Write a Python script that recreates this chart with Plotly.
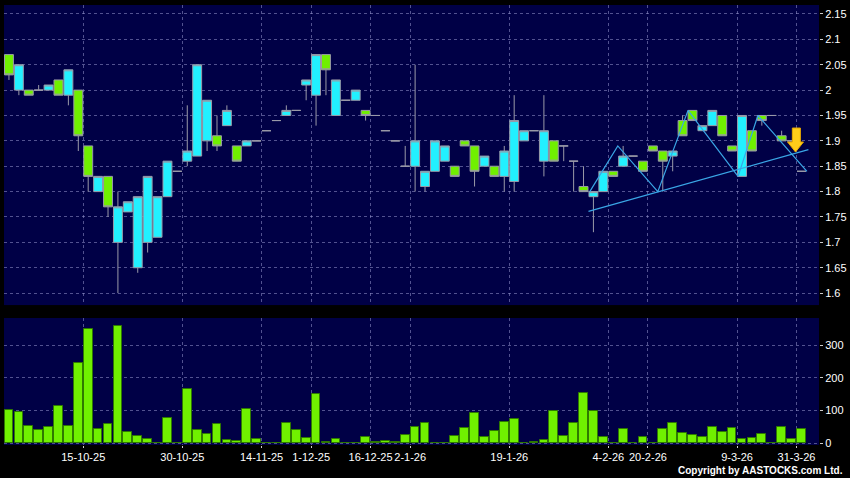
import plotly.graph_objects as go

# ---------------- data ----------------
opens = [2.07, 2.00, 2.00, 2.00, 2.00, 2.02, 1.99, 2.00, 1.89, 1.80,
         1.83, 1.70, 1.76, 1.65, 1.70, 1.71, 1.79, 1.84, 1.86, 1.87,
         1.90, 1.91, 1.93, 1.89, 1.89, 1.90, 1.92, 1.94, 1.95, 1.96,
         2.01, 1.99, 2.07, 1.95, 1.98, 1.98, 1.96, 1.95, 1.92, 1.90,
         1.85, 1.85, 1.81, 1.84, 1.86, 1.85, 1.90, 1.89, 1.85, 1.85,
         1.83, 1.82, 1.90, 1.92, 1.86, 1.90, 1.89, 1.86, 1.81, 1.79,
         1.80, 1.84, 1.85, 1.87, 1.86, 1.89, 1.88, 1.87, 1.94, 1.96,
         1.92, 1.93, 1.95, 1.89, 1.83, 1.92, 1.95, 1.95, 1.91, 1.90,
         1.84]
highs = [2.07, 2.05, 2.00, 2.01, 2.01, 2.02, 2.04, 2.00, 1.89, 1.83,
         1.83, 1.80, 1.78, 1.79, 1.83, 1.79, 1.86, 1.84, 1.97, 2.05,
         1.98, 1.95, 1.97, 1.89, 1.90, 1.90, 1.92, 1.94, 1.97, 1.96,
         2.02, 2.07, 2.07, 2.02, 1.98, 2.00, 1.96, 1.95, 1.92, 1.90,
         1.89, 2.05, 1.84, 1.90, 1.89, 1.85, 1.90, 1.89, 1.87, 1.85,
         1.89, 1.99, 1.92, 1.92, 1.99, 1.90, 1.89, 1.86, 1.85, 1.80,
         1.84, 1.84, 1.89, 1.87, 1.86, 1.89, 1.88, 1.88, 1.95, 1.96,
         1.93, 1.96, 1.95, 1.89, 1.95, 1.92, 1.95, 1.95, 1.92, 1.90,
         1.84]
lows = [2.02, 1.99, 1.99, 2.00, 2.00, 1.99, 1.97, 1.88, 1.80, 1.80,
        1.75, 1.60, 1.76, 1.64, 1.68, 1.71, 1.79, 1.84, 1.85, 1.87,
        1.88, 1.88, 1.93, 1.86, 1.89, 1.90, 1.92, 1.94, 1.95, 1.96,
        1.98, 1.93, 1.99, 1.95, 1.98, 1.98, 1.94, 1.95, 1.92, 1.90,
        1.85, 1.80, 1.80, 1.84, 1.86, 1.83, 1.89, 1.81, 1.85, 1.83,
        1.80, 1.80, 1.90, 1.92, 1.83, 1.86, 1.86, 1.80, 1.80, 1.72,
        1.80, 1.83, 1.85, 1.87, 1.84, 1.88, 1.80, 1.84, 1.91, 1.94,
        1.92, 1.93, 1.91, 1.88, 1.83, 1.88, 1.93, 1.95, 1.90, 1.90,
        1.84]
closes = [2.03, 2.05, 1.99, 2.00, 2.01, 1.99, 2.04, 1.91, 1.83, 1.83,
          1.77, 1.77, 1.78, 1.79, 1.83, 1.79, 1.86, 1.84, 1.88, 2.05,
          1.98, 1.89, 1.96, 1.86, 1.90, 1.90, 1.92, 1.94, 1.96, 1.96,
          2.02, 2.07, 2.04, 2.02, 1.98, 2.00, 1.95, 1.95, 1.92, 1.90,
          1.85, 1.90, 1.84, 1.90, 1.89, 1.83, 1.89, 1.84, 1.87, 1.83,
          1.88, 1.94, 1.92, 1.92, 1.92, 1.86, 1.89, 1.86, 1.80, 1.80,
          1.84, 1.83, 1.87, 1.87, 1.84, 1.88, 1.86, 1.88, 1.91, 1.94,
          1.93, 1.96, 1.91, 1.88, 1.95, 1.88, 1.94, 1.95, 1.90, 1.90,
          1.84]
volumes = [101, 96, 54, 40, 51, 113, 54, 244, 350, 45,
           59, 358, 34, 21, 12, 1, 76, 0, 167, 40,
           28, 59, 9, 7, 106, 12, 2, 2, 63, 42,
           17, 152, 3, 13, 0, 1, 18, 4, 8, 3,
           25, 49, 61, 0, 1, 23, 46, 94, 18, 39,
           64, 73, 0, 3, 10, 99, 22, 62, 155, 99,
           20, 1, 43, 0, 18, 1, 43, 61, 32, 25,
           20, 50, 34, 47, 12, 15, 29, 0, 50, 12,
           43]
idx = list(range(len(closes)))

tick_pos = [7.5, 17.5, 25.5, 30.5, 36.5, 40.5, 50.5, 60.5, 64.5, 73.5, 79.5]
tick_labels = ["15-10-25", "30-10-25", "14-11-25", "1-12-25", "16-12-25", "2-1-26",
               "19-1-26", "4-2-26", "20-2-26", "9-3-26", "31-3-26"]
price_ticks = [1.6, 1.65, 1.7, 1.75, 1.8, 1.85, 1.9, 1.95, 2.0, 2.05, 2.1, 2.15]
price_tick_text = ["1.6", "1.65", "1.7", "1.75", "1.8", "1.85", "1.9", "1.95", "2", "2.05", "2.1", "2.15"]
vol_ticks = [0, 100, 200, 300]

# drawn annotations (trend lines / arrow)
zigzag_x = [58.63, 61.46, 65.5, 68.55, 73.6, 75.6, 80.55]
zigzag_y = [1.80, 1.89, 1.80, 1.96, 1.83, 1.95, 1.84]
support_x = [58.5, 80.7]
support_y = [1.761, 1.8826]
arrow_path = ("M 79.08,1.9253 L 79.89,1.9253 L 79.89,1.8977 L 80.2,1.8977 "
              "L 79.4,1.878 L 78.6,1.8977 L 79.08,1.8977 Z")

# ---------------- styling ----------------
NAVY = "#000046"
CYAN = "#22f0ff"
LIME = "#70f000"
GRID = "rgba(150,150,205,0.55)"
FONT = "Arial, Liberation Sans, sans-serif"

fig = go.Figure()

fig.add_trace(go.Bar(
    x=idx, y=volumes, xaxis="x2", yaxis="y2", width=0.88,
    marker=dict(color=LIME, line=dict(color="#2f7a00", width=1)),
    showlegend=False, hoverinfo="skip"))

fig.add_trace(go.Candlestick(
    x=idx, open=opens, high=highs, low=lows, close=closes,
    xaxis="x", yaxis="y",
    increasing=dict(fillcolor=CYAN, line=dict(color="#9a9aa8", width=1)),
    decreasing=dict(fillcolor=LIME, line=dict(color="#9a9aa8", width=1)),
    whiskerwidth=0, showlegend=False, hoverinfo="skip"))

fig.add_trace(go.Scatter(x=zigzag_x, y=zigzag_y, mode="lines", xaxis="x", yaxis="y",
                         line=dict(color="#3aa6e6", width=1.2), showlegend=False, hoverinfo="skip"))
fig.add_trace(go.Scatter(x=support_x, y=support_y, mode="lines", xaxis="x", yaxis="y",
                         line=dict(color="#3aa6e6", width=1.2), showlegend=False, hoverinfo="skip"))

fig.add_shape(type="path", path=arrow_path, xref="x", yref="y",
              fillcolor="#ffcc1a", line=dict(color="#e6a800", width=1))

axis_common = dict(showline=False, zeroline=False, showgrid=True, gridcolor=GRID,
                   griddash="3px,3px", gridwidth=1, automargin=False,
                   tickfont=dict(family=FONT, size=11, color="#ffffff"))

fig.update_layout(
    width=850, height=478,
    margin=dict(l=4, r=31, t=5, b=33, autoexpand=False),
    paper_bgcolor="#000000", plot_bgcolor=NAVY,
    boxgap=0.1, boxgroupgap=0,
    bargap=0,
    xaxis=dict(domain=[0, 1], anchor="y", range=[-0.5, 81.77], tickvals=tick_pos,
               showticklabels=False, ticks="", rangeslider=dict(visible=False), **axis_common),
    xaxis2=dict(domain=[0, 1], anchor="y2", range=[-0.5, 81.77], tickvals=tick_pos,
                ticktext=tick_labels, ticks="outside", ticklen=2, tickcolor="#cccccc",
                tickangle=0, **axis_common),
    yaxis=dict(domain=[0.318, 1], anchor="x", side="right", range=[1.5764, 2.1677],
               tickvals=price_ticks, ticktext=price_tick_text, ticks="outside", ticklen=3,
               tickcolor="#cccccc", **axis_common),
    yaxis2=dict(domain=[0, 0.2886], anchor="x2", side="right", range=[-5, 383],
                tickvals=vol_ticks, ticks="outside", ticklen=3, tickcolor="#cccccc",
                **axis_common),
    annotations=[dict(text="<b>Copyright by AASTOCKS.com Ltd.</b>", xref="paper", yref="paper",
                      x=1.032, y=-0.0585, xanchor="right", yanchor="middle", showarrow=False,
                      font=dict(family=FONT, size=10, color="#ffffff"))],
)

fig.write_html("out.html", config={"displayModeBar": False},
               post_script="document.body.style.margin='0';document.body.style.overflow='hidden';")
